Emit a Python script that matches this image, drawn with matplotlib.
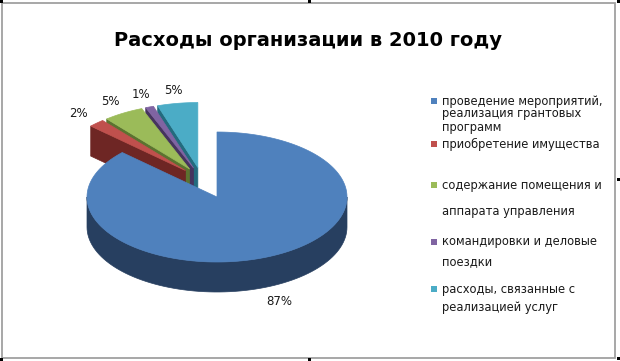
import numpy as np
import matplotlib
matplotlib.use('Agg')
import matplotlib.pyplot as plt
from matplotlib.patches import Polygon, Rectangle

# chart data
title = 'Расходы организации в 2010 году'
values = [87, 2, 5, 1, 5]
names = ['проведение мероприятий,\nреализация грантовых\nпрограмм',
         'приобретение имущества',
         'содержание помещения и\nаппарата управления',
         'командировки и деловые\nпоездки',
         'расходы, связанные с\nреализацией услуг']
explode = [0, 1, 1, 1, 1]

top_colors = ['#4F81BD', '#C0504D', '#9BBB59', '#8064A2', '#4BACC6']
side_colors = ['#273F60', '#6E2624', '#5B7330', '#46345E', '#236B7E']

# pie geometry in pixel units
cx, cy = 217, 197
a, b = 130, 65
depth = 30
block_expl = 0.30   # exploded slices move out together...
own_expl = 0.18     # ...and each a little along its own direction

plt.rcParams['font.family'] = ['DejaVu Sans']

fig = plt.figure(figsize=(6.2, 3.61), dpi=100)
ax = fig.add_axes([0, 0, 1, 1])
ax.set_xlim(0, 620)
ax.set_ylim(361, 0)
ax.axis('off')


def pt(th, r, dx, dy, z=0):
    t = np.radians(th)
    return cx + dx + r * a * np.cos(t), cy + dy - r * b * np.sin(t) + z


def offset(th, e):
    t = np.radians(th)
    return e * a * np.cos(t), -e * b * np.sin(t)


# slice angles, clockwise from 12 o'clock
total = float(sum(values))
cum = np.concatenate([[0], np.cumsum(values)]) / total
th_start = 90 - 360 * cum[:-1]
th_end = 90 - 360 * cum[1:]
mids = (th_start + th_end) / 2

ex = [i for i in range(len(values)) if explode[i]]
group_mid = (max(th_start[i] for i in ex) + min(th_end[i] for i in ex)) / 2
gdx, gdy = offset(group_mid, block_expl)

shifts = []
for i in range(len(values)):
    if explode[i]:
        odx, ody = offset(mids[i], own_expl)
        shifts.append((gdx + odx, gdy + ody))
    else:
        shifts.append((0, 0))

order = sorted(range(len(values)), key=lambda i: -np.sin(np.radians(mids[i])))
for i in order:
    dx, dy = shifts[i]
    t0, t1 = th_start[i], th_end[i]
    V = pt(0, 0, dx, dy)
    faces = []
    # outer wall, only the front half is visible
    cuts = [t1] + [k * 180 for k in range(int(np.floor(t1 / 180)) - 1, int(np.ceil(t0 / 180)) + 2)
                   if t1 < k * 180 < t0] + [t0]
    for s0, s1 in zip(cuts[:-1], cuts[1:]):
        if np.sin(np.radians((s0 + s1) / 2)) < 0:
            ts = np.linspace(s0, s1, 80)
            topp = [pt(t, 1, dx, dy) for t in ts]
            bot = [pt(t, 1, dx, dy, depth) for t in ts[::-1]]
            faces.append(topp + bot)
    # cut faces
    if np.cos(np.radians(t0)) < -1e-6:
        faces.append([V, pt(t0, 1, dx, dy), pt(t0, 1, dx, dy, depth), pt(0, 0, dx, dy, depth)])
    if np.cos(np.radians(t1)) > 1e-6:
        faces.append([V, pt(t1, 1, dx, dy), pt(t1, 1, dx, dy, depth), pt(0, 0, dx, dy, depth)])
    for f in faces:
        ax.add_patch(Polygon(f, closed=True, fc=side_colors[i], ec=side_colors[i], lw=0.5))
    ts = np.linspace(t0, t1, 200)
    topface = [V] + [pt(t, 1, dx, dy) for t in ts]
    ax.add_patch(Polygon(topface, closed=True, fc=top_colors[i], ec=top_colors[i], lw=0.5))

# data labels
for i, v in enumerate(values):
    dx, dy = shifts[i]
    z = depth + 3 if np.sin(np.radians(mids[i])) < 0 else 0
    x, y = pt(mids[i], 1.2, dx, dy, z)
    ax.text(x, y, f'{v}%', ha='center', va='center', fontsize=8.5, color='#1a1a1a')

# title
ax.text(308, 40, title, ha='center', va='center', fontsize=14, fontweight='bold', color='black')

# legend
line_y = [[101, 114, 128], [144], [185, 211], [242, 262], [289, 308]]
for i, name in enumerate(names):
    ys = line_y[i]
    ax.add_patch(Rectangle((431, ys[0] - 3), 6, 6, fc=top_colors[i], ec='none'))
    for ln, y in zip(name.split('\n'), ys):
        ax.text(442, y, ln, ha='left', va='center', fontsize=8.3, color='#1a1a1a')

# chart frame and handles
ax.add_patch(Rectangle((2, 3), 613, 355, fill=False, ec='#A0A0A0', lw=1.3))
for hx, hy in [(0, 0), (308, 0), (617, 0), (617, 178), (0, 358), (308, 358), (617, 357)]:
    ax.add_patch(Rectangle((hx, hy), 3, 3, fc='black', ec='none'))

fig.savefig('out.png', dpi=100)
